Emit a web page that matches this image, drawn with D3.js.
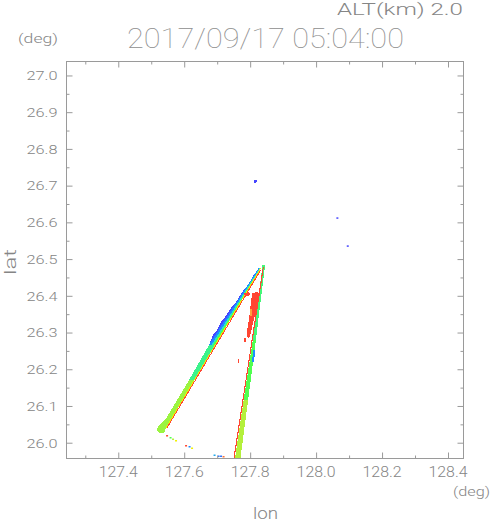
<!DOCTYPE html>
<html><head><meta charset="utf-8">
<script src="https://cdn.jsdelivr.net/npm/d3@7"></script>
<style>body{margin:0;background:#fff}</style>
</head><body>
<svg id="c" width="491" height="521"></svg>
<script>
// ---------- data ----------
const titleText = "2017/09/17 05:04:00";
const altText = "ALT(km) 2.0";
const lonExtent = [127.243, 128.447];
const latExtent = [25.957, 27.038];
const lonTicks = [127.4, 127.6, 127.8, 128.0, 128.2, 128.4];
const lonTickLabels = ["127.4", "127.6", "127.8", "128.0", "128.2", "128.4"];
const lonMinorTicks = [127.3, 127.5, 127.7, 127.9, 128.1, 128.3];
const latTicks = [26.0, 26.1, 26.2, 26.3, 26.4, 26.5, 26.6, 26.7, 26.8, 26.9, 27.0];
const latTickLabels = ["26.0","26.1","26.2","26.3","26.4","26.5","26.6","26.7","26.8","26.9","27.0"];
const latMinorTicks = [26.05, 26.15, 26.25, 26.35, 26.45, 26.55, 26.65, 26.75, 26.85, 26.95];

// colour scale levels (value -> colour)
const levelValues = [-9, -6, -3, 0, 2, 4, 6, 8];
const levelColors = ["#4646ff", "#1e8cff", "#28e6c8", "#50ff50", "#b4f03c", "#f0f000", "#ffa03c", "#ff4632"];

// echo regions: [value, [[lon,lat], ...]]
const echoRegions = [
  [1.5, [[127.6147,26.1707],[127.6298,26.1707],[127.5449,26.0400],[127.5388,26.0264],[127.5237,26.0264],[127.5176,26.0346],[127.5206,26.0455],[127.5419,26.0618]]],
  [-1.5, [[127.6753,26.2660],[127.6935,26.2660],[127.6298,26.1707],[127.6147,26.1707]]],
  [-9, [[127.8270,26.4756],[127.8315,26.4729],[127.6935,26.2769],[127.6814,26.2633],[127.6784,26.2742],[127.6875,26.2932],[127.6996,26.3068],[127.7148,26.3341],[127.7239,26.3422],[127.7481,26.3749],[127.7572,26.3831],[127.7800,26.4157],[127.7936,26.4294],[127.8103,26.4566]]],
  [-6, [[127.8255,26.4756],[127.8285,26.4756],[127.6823,26.2660],[127.6747,26.2660]]],
  [-3, [[127.8285,26.4756],[127.8315,26.4756],[127.6884,26.2660],[127.6823,26.2660]]],
  [0, [[127.8309,26.4756],[127.8331,26.4756],[127.6923,26.2660],[127.6869,26.2660]]],
  [4, [[127.8325,26.4784],[127.8352,26.4784],[127.5458,26.0400],[127.5431,26.0400]]],
  [8, [[127.8300,26.4702],[127.8334,26.4702],[127.5492,26.0400],[127.5458,26.0400]]],
  [8, [[127.8073,26.4076],[127.8209,26.4103],[127.8285,26.4049],[127.8270,26.3858],[127.8209,26.3640],[127.8133,26.3422],[127.8073,26.3204],[127.8027,26.3014],[127.7967,26.2851],[127.7891,26.2878],[127.7906,26.3068],[127.7951,26.3286],[127.7982,26.3504],[127.8012,26.3722],[127.8042,26.3940]]],
  [8, [[127.7815,26.4076],[127.7967,26.4103],[127.7997,26.4021],[127.7845,26.3967]]],
  [6, [[127.7997,26.3640],[127.8058,26.3640],[127.8042,26.3450],[127.7982,26.3450]]],
  [8, [[127.7815,26.2851],[127.7860,26.2851],[127.7860,26.2742],[127.7815,26.2742]]],
  [8, [[127.7618,26.2279],[127.7663,26.2279],[127.7663,26.2170],[127.7618,26.2170]]],
  [-1, [[127.8376,26.4838],[127.8452,26.4838],[127.8173,26.2796],[127.8082,26.2796]]],
  [0, [[127.8082,26.2796],[127.8173,26.2796],[127.7939,26.1163],[127.7803,26.1163]]],
  [2, [[127.7803,26.1163],[127.7939,26.1163],[127.7694,25.9502],[127.7527,25.9502]]],
  [8, [[127.8382,26.4784],[127.8416,26.4784],[127.7515,25.9502],[127.7481,25.9502]]],
  [-6, [[127.8088,26.2524],[127.8149,26.2524],[127.8118,26.2197],[127.8058,26.2197]]],
  [-9, [[127.8118,26.7152],[127.8209,26.7152],[127.8209,26.7111],[127.8164,26.7111],[127.8164,26.7070],[127.8118,26.7070]]]
];

// isolated echo pixels: [lon, lat, value]
const echoDots = [
  [128.0645, 26.6110, -9], [128.0960, 26.5347, -9],
  [127.5480, 26.0182, 8], [127.5586, 26.0128, 0], [127.5661, 26.0087, 2], [127.5752, 26.0046, 4],
  [127.6056, 25.9910, 8], [127.6162, 25.9883, -6], [127.6238, 25.9842, 4],
  [127.6920, 25.9652, -5], [127.7042, 25.9624, -7], [127.7117, 25.9624, -7], [127.7193, 25.9611, 7]
];

// ---------- drawing ----------
const svg = d3.select("#c");
const L = 66.5, R = 463.5, T = 61.5, B = 458.5;
const x = d3.scaleLinear().domain(lonExtent).range([L, R]);
const y = d3.scaleLinear().domain(latExtent).range([B, T]);
const color = d3.scaleLinear().domain(levelValues).range(levelColors).clamp(true);
const font = "Roboto, 'DejaVu Sans', sans-serif";
const txtCol = "#858585";
const lineCol = "#9a9a9a";

svg.append("defs").append("clipPath").attr("id", "clip")
  .append("rect").attr("x", L).attr("y", T).attr("width", R - L).attr("height", B - T);

const plot = svg.append("g").attr("clip-path", "url(#clip)");
const line = d3.line().x(d => x(d[0])).y(d => y(d[1])).curve(d3.curveLinearClosed);
plot.selectAll("path.echo").data(echoRegions).join("path")
  .attr("class", "echo")
  .attr("d", d => line(d[1]))
  .attr("fill", d => color(d[0]))
  .attr("shape-rendering", "crispEdges");
plot.selectAll("rect.dot").data(echoDots).join("rect")
  .attr("class", "dot")
  .attr("x", d => x(d[0]) - 1).attr("y", d => y(d[1]) - 1)
  .attr("width", 2).attr("height", 1.5)
  .attr("fill", d => color(d[2]));

// frame
svg.append("rect").attr("x", L).attr("y", T).attr("width", R - L).attr("height", B - T)
  .attr("fill", "none").attr("stroke", lineCol).attr("stroke-width", 1);

function ticks(axis, tr, vals, size) {
  const g = svg.append("g").attr("transform", tr)
    .call(axis.tickValues(vals).tickSize(-size).tickSizeOuter(0).tickFormat(""));
  g.select(".domain").remove();
  g.selectAll("line").attr("stroke", lineCol).attr("stroke-width", 1);
}
ticks(d3.axisBottom(x), `translate(0,${B})`, lonTicks, 6);
ticks(d3.axisBottom(x), `translate(0,${B})`, lonMinorTicks, 3);
ticks(d3.axisTop(x), `translate(0,${T})`, lonTicks, 6);
ticks(d3.axisTop(x), `translate(0,${T})`, lonMinorTicks, 3);
ticks(d3.axisLeft(y), `translate(${L},0)`, latTicks, 6);
ticks(d3.axisLeft(y), `translate(${L},0)`, latMinorTicks, 3);
ticks(d3.axisRight(y), `translate(${R},0)`, latTicks, 6);
ticks(d3.axisRight(y), `translate(${R},0)`, latMinorTicks, 3);

// tick labels
svg.selectAll("text.xl").data(lonTicks).join("text").attr("class", "xl")
  .attr("x", d => x(d)).attr("y", 476.5)
  .attr("text-anchor", "middle").attr("font-family", font).attr("font-size", 14.5)
  .attr("font-weight", 300).attr("fill", txtCol)
  .attr("textLength", 39).attr("lengthAdjust", "spacingAndGlyphs")
  .text((d, i) => lonTickLabels[i]);
svg.selectAll("text.yl").data(latTicks).join("text").attr("class", "yl")
  .attr("x", 57.5).attr("y", d => y(d) + 4.8)
  .attr("text-anchor", "end").attr("font-family", font).attr("font-size", 13)
  .attr("font-weight", 300).attr("fill", txtCol)
  .attr("textLength", 31).attr("lengthAdjust", "spacingAndGlyphs")
  .text((d, i) => latTickLabels[i]);

function label(txt, px, py, size, len, anchor, rot, weight, fill) {
  const t = svg.append("text").attr("x", px).attr("y", py)
    .attr("font-family", font).attr("font-size", size).attr("font-weight", weight || 300)
    .attr("fill", fill || txtCol).attr("text-anchor", anchor || "start").text(txt);
  if (len) t.attr("textLength", len).attr("lengthAdjust", "spacingAndGlyphs");
  if (rot) t.attr("transform", `rotate(${rot},${px},${py})`);
  return t;
}
label(altText, 337, 15, 17, 126);
label("(deg)", 18, 43, 13, 40);
label(titleText, 127, 48, 27, 277, "start", 0, 100, "#8e8e8e");
label("(deg)", 453, 496, 13, 37);
label("lon", 265.5, 518.5, 17, 25, "middle");
label("lat", 16, 262, 16, 26, "middle", -90);
</script>
</body></html>
